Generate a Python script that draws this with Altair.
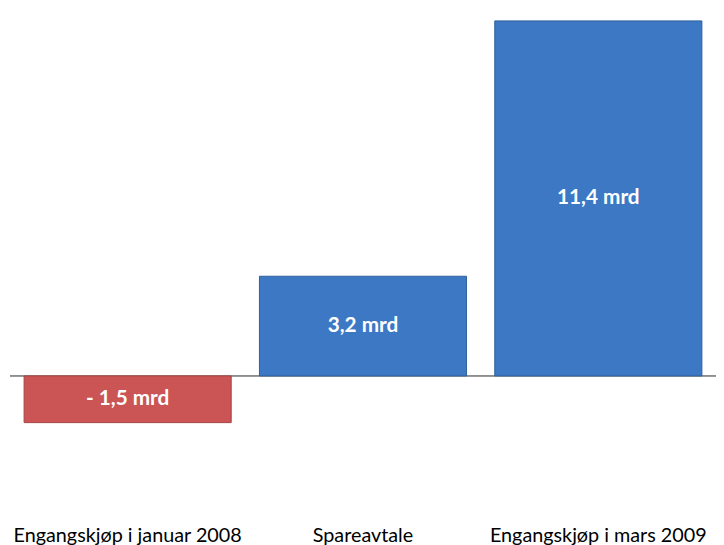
import altair as alt
import pandas as pd

categories = ["Engangskjøp i januar 2008", "Spareavtale", "Engangskjøp i mars 2009"]
values = [-1.5, 3.2, 11.4]
labels = ["- 1,5 mrd", "3,2 mrd", "11,4 mrd"]
colors = ["#CB5454", "#3C78C4", "#3C78C4"]
strokes = ["#A84343", "#2F5E9C", "#2F5E9C"]

df = pd.DataFrame({"cat": categories, "val": values, "lab": labels,
                   "col": colors, "stk": strokes})

FONT = "Lato"

xscale = alt.Scale(paddingInner=0.12, paddingOuter=0.06)
xaxis = alt.Axis(labelAngle=0, labelFont=FONT, labelFontSize=20, labelColor="#000000",
                 domain=False, ticks=False, labelPadding=8, labelLimit=400)
yscale = alt.Scale(domain=[-4.54, 11.4], nice=False, zero=False)

x = alt.X("cat:N", sort=categories, title=None, scale=xscale, axis=xaxis)

base = alt.Chart(df).transform_calculate(mid="datum.val / 2", z="0")

bars = base.mark_bar(strokeWidth=1).encode(
    x=x,
    y=alt.Y("val:Q", title=None, scale=yscale, axis=None),
    fill=alt.Fill("col:N", scale=None),
    stroke=alt.Stroke("stk:N", scale=None),
)

zero = base.mark_rule(color="#8C8C8C", strokeWidth=1.2).encode(
    y=alt.Y("z:Q", title=None, scale=yscale, axis=None)
)

text = base.mark_text(
    font=FONT, fontSize=21, fontWeight="bold", color="white", align="center", baseline="middle"
).encode(
    x=x,
    y=alt.Y("mid:Q", title=None, scale=yscale, axis=None),
    text="lab:N",
)

chart = alt.layer(zero, bars, text).properties(
    width=714, height=502,
    padding={"left": 2, "top": 10, "right": 0, "bottom": 27},
    autosize=alt.AutoSizeParams(type="none"),
).configure_view(stroke=None)

chart.save("out.html", embed_options={"renderer": "svg", "actions": False})
